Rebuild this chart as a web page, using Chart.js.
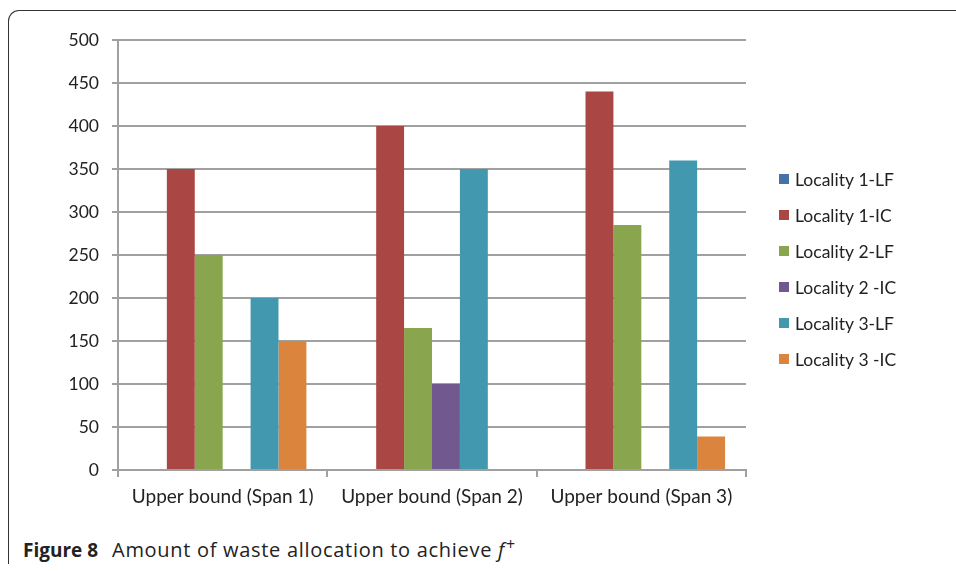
<!DOCTYPE html>
<html>
<head>
<meta charset="utf-8">
<script src="https://cdn.jsdelivr.net/npm/chart.js@4.4.1/dist/chart.umd.min.js"></script>
<style>
  html, body { margin: 0; padding: 0; background: #fff; }
  body { width: 956px; height: 571px; position: relative; overflow: hidden; }
  #frame { position: absolute; left: 8px; top: 10px; width: 1000px; height: 553px;
           border-left: 1px solid #333; border-top: 1px solid #333; border-top-left-radius: 11px; }
  #wrap { position: absolute; left: 0; top: 0; width: 956px; height: 520px; }
  #caption { position: absolute; left: 23px; top: 537px; font-family: "Open Sans", sans-serif;
             font-size: 19px; color: #222; white-space: nowrap; line-height: 26px; }
  #caption b { font-weight: 700; margin-right: 9px; letter-spacing: 0; }
  #caption .t { font-size: 20px; letter-spacing: 0.7px; }
  #caption sup { font-size: 16px; vertical-align: 7px; line-height: 0; margin-left: 1px; }
</style>
</head>
<body>
<div id="frame"></div>
<div id="wrap"><canvas id="c" width="956" height="520"></canvas></div>
<div id="caption"><b>Figure 8</b> <span class="t">Amount of waste allocation to achieve <i>f</i><sup>+</sup></span></div>
<script>
const categories = ["Upper bound (Span 1)", "Upper bound (Span 2)", "Upper bound (Span 3)"];
const seriesNames = ["Locality 1-LF", "Locality 1-IC", "Locality 2-LF", "Locality 2 -IC", "Locality 3-LF", "Locality 3 -IC"];
const locality1LF = [0, 0, 0];
const locality1IC = [350, 400, 440];
const locality2LF = [250, 165, 285];
const locality2IC = [0, 100, 0];
const locality3LF = [200, 350, 360];
const locality3IC = [150, 0, 39];
const yTicks = [0, 50, 100, 150, 200, 250, 300, 350, 400, 450, 500];

const seriesValues = [locality1LF, locality1IC, locality2LF, locality2IC, locality3LF, locality3IC];
const colors = ["#4572A7", "#AA4643", "#89A54E", "#71588F", "#4198AF", "#DB843D"];

const legendPlugin = {
  id: 'sideLegend',
  afterDraw(chart) {
    const ctx = chart.ctx;
    const area = chart.chartArea;
    ctx.save();
    ctx.font = '17.5px Lato, sans-serif';
    ctx.textBaseline = 'middle';
    ctx.textAlign = 'left';
    chart.data.datasets.forEach((ds, i) => {
      const y = area.top + 139 + i * 36;
      const x = area.right + 33;
      ctx.fillStyle = ds.backgroundColor;
      ctx.fillRect(x, y - 5, 10, 10);
      ctx.fillStyle = '#222';
      ctx.fillText(ds.label, x + 16, y + 1);
    });
    ctx.restore();
  }
};

new Chart(document.getElementById('c'), {
  type: 'bar',
  data: {
    labels: categories,
    datasets: seriesNames.map((name, i) => ({
      label: name,
      data: seriesValues[i],
      backgroundColor: colors[i],
      borderWidth: 0
    }))
  },
  options: {
    responsive: false,
    animation: false,
    layout: { padding: { left: 0, right: 210, top: 40, bottom: 0 } },
    datasets: { bar: { categoryPercentage: 0.8, barPercentage: 1.0 } },
    plugins: { legend: { display: false }, tooltip: { enabled: false } },
    scales: {
      x: {
        grid: { display: true, drawOnChartArea: false, drawTicks: true, tickLength: 7, color: '#a0a0a0', lineWidth: 2, offset: true },
        border: { display: true, color: '#a0a0a0', width: 2 },
        ticks: { font: { family: 'Lato', size: 19 }, color: '#222', padding: 8, maxRotation: 0 },
        afterFit(scale) { scale.height = 50; }
      },
      y: {
        min: 0, max: 500,
        afterBuildTicks(scale) { scale.ticks = yTicks.map(v => ({ value: v })); },
        grid: { color: '#a0a0a0', lineWidth: 2, tickLength: 6 },
        border: { display: true, color: '#a0a0a0', width: 2 },
        ticks: { font: { family: 'Lato', size: 17.5 }, color: '#222', padding: 13 },
        afterFit(scale) { scale.width = 118; }
      }
    }
  },
  plugins: [legendPlugin]
});
</script>
</body>
</html>
